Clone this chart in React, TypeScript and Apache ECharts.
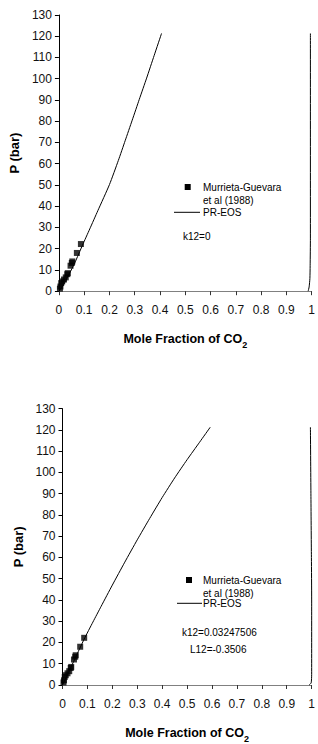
import React, { useEffect, useRef } from "react";
import * as echarts from "echarts";

// Experimental data, Murrieta-Guevara et al (1988): [mole fraction CO2, P (bar)]
const expData: number[][] = [
  [0.004, 1.2], [0.006, 2.2], [0.009, 3.8], [0.013, 4.6], [0.02, 5.5],
  [0.027, 6.5], [0.033, 8.0], [0.035, 8.5], [0.046, 12.0], [0.051, 13.3],
  [0.053, 14.0], [0.071, 18.0], [0.087, 22.2],
];

// PR-EOS, k12 = 0
const liquidK0: number[][] = [
  [0, 0], [0.015, 2.5], [0.03, 5.6], [0.063, 13.4], [0.093, 21.6], [0.122, 29.3],
  [0.154, 37.9], [0.2, 50.2], [0.235, 61.5], [0.262, 70.8], [0.29, 80.5],
  [0.318, 90.3], [0.347, 100.3], [0.377, 111.0], [0.406, 121.3],
];
const vaporK0: number[][] = [
  [0.986, 0], [0.99, 2], [0.993, 6], [0.994, 12], [0.995, 25], [0.995, 121.3],
];

// PR-EOS, k12 = 0.03247506, L12 = -0.3506
const liquidFit: number[][] = [
  [0, 0], [0.05, 12.4], [0.087, 21.6], [0.122, 29.6], [0.155, 37.0], [0.2, 47.0],
  [0.25, 57.8], [0.3, 68.3], [0.35, 78.4], [0.4, 88.2], [0.45, 97.4],
  [0.5, 106.0], [0.55, 114.2], [0.593, 121.3],
];
const vaporFit: number[][] = [
  [0.99, 0], [0.998, 1], [1.0, 5], [1.0, 40], [0.999, 60], [0.997, 90], [0.995, 121.3],
];

const xTitle = "Mole Fraction of CO";
const yTitle = "P (bar)";
const legendExp = ["Murrieta-Guevara", "et al (1988)"];
const legendLine = "PR-EOS";
const notesTop = ["k12=0"];
const notesBottom = ["k12=0.03247506", "L12=-0.3506"];

const FONT = '"Liberation Sans", Arial, sans-serif';

function xAxisCfg(gridIndex: number) {
  return {
    type: "value" as const,
    gridIndex,
    min: 0,
    max: 1,
    interval: 0.1,
    name: `{b|${xTitle}}{s|2}`,
    nameLocation: "middle" as const,
    nameGap: 41,
    nameTextStyle: {
      rich: {
        b: { fontSize: 12.5, fontWeight: "bold", fontFamily: FONT, color: "#000", lineHeight: 16, verticalAlign: "top" },
        s: { fontSize: 9, fontWeight: "bold", fontFamily: FONT, color: "#000", lineHeight: 16, verticalAlign: "top", padding: [8, 0, 0, 0] },
      },
    },
    axisLine: { show: true, onZero: false, lineStyle: { color: "#808080", width: 1 } },
    axisTick: { show: true, length: 4, lineStyle: { color: "#333" } },
    axisLabel: { margin: 13, fontSize: 12, fontFamily: FONT, color: "#111" },
    splitLine: { show: false },
  };
}

function yAxisCfg(gridIndex: number, gap: number) {
  return {
    type: "value" as const,
    gridIndex,
    min: 0,
    max: 130,
    interval: 10,
    name: yTitle,
    nameLocation: "middle" as const,
    nameGap: gap,
    nameTextStyle: { fontSize: 13, fontWeight: "bold", fontFamily: FONT, color: "#000" },
    axisLine: { show: true, onZero: false, lineStyle: { color: "#000", width: 1 } },
    axisTick: { show: true, length: 4, lineStyle: { color: "#000" } },
    axisLabel: { margin: 7, fontSize: 12, fontFamily: FONT, color: "#111" },
    splitLine: { show: false },
  };
}

function legendGraphics(
  mx: number, my: number, tx: number, lineY: number, lx1: number, lx2: number,
  noteX: number[], noteY: number[], notes: string[]
) {
  const t = (text: string, x: number, y: number) => ({
    type: "text",
    x,
    y,
    style: {
      text, fontSize: 10, lineHeight: 10, fontFamily: FONT, fill: "#000",
      verticalAlign: "middle", align: "left",
    },
  });
  const items: any[] = [
    { type: "rect", shape: { x: mx - 3, y: my - 3, width: 6, height: 6 }, style: { fill: "#000" } },
    t(legendExp[0], tx, my),
    t(legendExp[1], tx, my + 13.5),
    { type: "line", shape: { x1: lx1, y1: lineY, x2: lx2, y2: lineY }, style: { stroke: "#000", lineWidth: 1 } },
    t(legendLine, tx, lineY),
  ];
  notes.forEach((n, i) => items.push(t(n, noteX[i], noteY[i])));
  return items;
}

export default function App() {
  const ref = useRef<HTMLDivElement>(null);
  useEffect(() => {
    if (!ref.current) return;
    const chart = echarts.init(ref.current, null, { renderer: "svg" });
    const lineStyle = { color: "#000", width: 1 };
    chart.setOption({
      animation: false,
      backgroundColor: "#fff",
      grid: [
        { left: 58.3, top: 15, width: 257.6, height: 276.2 },
        { left: 62.5, top: 408.7, width: 256.5, height: 278.8 },
      ],
      xAxis: [xAxisCfg(0), xAxisCfg(1)],
      yAxis: [yAxisCfg(0, 33), yAxisCfg(1, 31)],
      series: [
        { type: "scatter", name: "Murrieta-Guevara et al (1988)", xAxisIndex: 0, yAxisIndex: 0, data: expData, symbol: "rect", symbolSize: 6, itemStyle: { color: "#000" } },
        { type: "line", name: "PR-EOS", xAxisIndex: 0, yAxisIndex: 0, data: liquidK0, showSymbol: false, smooth: 0.2, lineStyle },
        { type: "line", name: "PR-EOS vapor", xAxisIndex: 0, yAxisIndex: 0, data: vaporK0, showSymbol: false, smooth: 0.2, lineStyle },
        { type: "scatter", name: "Murrieta-Guevara et al (1988) ", xAxisIndex: 1, yAxisIndex: 1, data: expData, symbol: "rect", symbolSize: 6, itemStyle: { color: "#000" } },
        { type: "line", name: "PR-EOS ", xAxisIndex: 1, yAxisIndex: 1, data: liquidFit, showSymbol: false, smooth: 0.2, lineStyle },
        { type: "line", name: "PR-EOS vapor ", xAxisIndex: 1, yAxisIndex: 1, data: vaporFit, showSymbol: false, smooth: 0.2, lineStyle, clip: false },
      ],
      graphic: [
        ...legendGraphics(187.7, 187, 203, 212.3, 174, 200, [183], [236.7], notesTop),
        ...legendGraphics(189, 580, 203, 603.3, 177, 202, [182, 190], [632.7, 649.3], notesBottom),
      ],
    });
    return () => chart.dispose();
  }, []);
  return (
    <div
      ref={ref}
      style={{ position: "absolute", left: 0, top: 0, width: 318, height: 744, background: "#fff" }}
    />
  );
}
